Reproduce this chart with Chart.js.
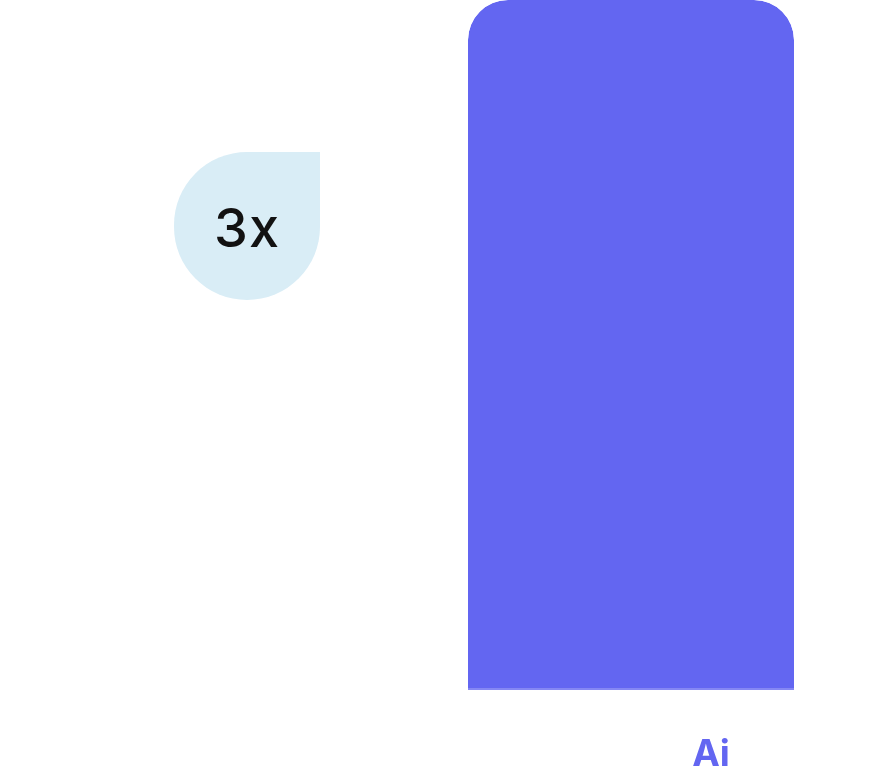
<!DOCTYPE html>
<html><head><meta charset="utf-8">
<script src="https://cdn.jsdelivr.net/npm/chart.js@4"></script>
<style>html,body{margin:0;padding:0;background:#fff}#wrap{width:878px;height:770px;position:relative}</style>
</head><body><div id="wrap"><canvas id="c"></canvas></div>
<script>
const categories = ["", "Ai"];
const values = [0, 3];
const badgeLabels = ["3x", ""];
const yRange = [0, 3];

const badgePlugin = {
  id: 'badge',
  afterDatasetsDraw(chart) {
    const ctx = chart.ctx, x = chart.scales.x;
    badgeLabels.forEach((txt, i) => {
      if (!txt) return;
      const cx = x.getPixelForValue(i);
      const w = 146, h = 148, top = 152, left = cx - w / 2;
      ctx.save();
      ctx.fillStyle = '#d9edf6';
      ctx.beginPath();
      ctx.roundRect(left, top, w, h, [74, 0, 74, 74]);
      ctx.fill();
      ctx.fillStyle = '#121212';
      ctx.font = '500 54px Inter';
      ctx.letterSpacing = '1px';
      ctx.textAlign = 'center';
      ctx.textBaseline = 'middle';
      ctx.fillText(txt, cx, top + h / 2 + 5);
      ctx.restore();
    });
  }
};

new Chart(document.getElementById('c'), {
  type: 'bar',
  data: {
    labels: categories,
    datasets: [{
      data: values,
      backgroundColor: '#6366f1',
      borderColor: '#8587f4',
      borderWidth: {top: 0, left: 0, right: 0, bottom: 2},
      borderSkipped: false,
      borderRadius: {topLeft: 40, topRight: 40, bottomLeft: 0, bottomRight: 0},
      barPercentage: 0.849,
      categoryPercentage: 1
    }]
  },
  options: {
    responsive: true,
    maintainAspectRatio: false,
    animation: false,
    layout: {padding: {left: 55, right: 55, top: 0, bottom: 0}},
    plugins: {legend: {display: false}, tooltip: {enabled: false}},
    scales: {
      y: {display: false, min: yRange[0], max: yRange[1]},
      x: {
        grid: {display: false, drawTicks: false},
        border: {display: false},
        afterFit(scale) { scale.height = 80; },
        ticks: {
          color: '#6366f1',
          font: {family: 'Inter', size: 37, weight: 'bold'},
          padding: 43,
          labelOffset: 80
        }
      }
    }
  },
  plugins: [badgePlugin]
});
</script></body></html>
